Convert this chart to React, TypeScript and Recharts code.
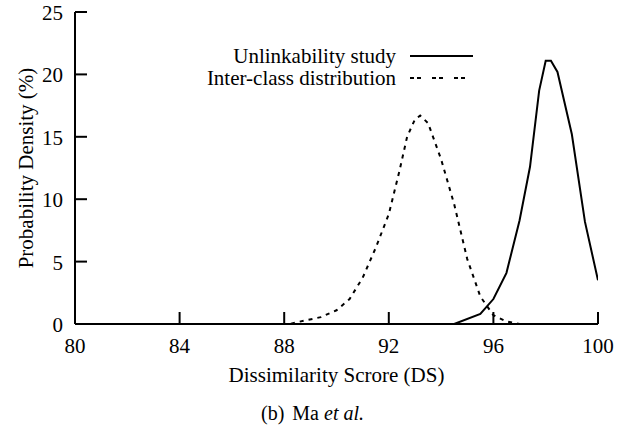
import { LineChart, Line, XAxis, YAxis, Legend } from 'recharts';

const xTicks = [80, 84, 88, 92, 96, 100];
const yTicks = [0, 5, 10, 15, 20, 25];

// Unlinkability study (solid)
const unlinkX = [80, 94.5, 95.5, 96, 96.5, 97, 97.4, 97.75, 98, 98.2, 98.45, 99, 99.5, 100];
const unlinkY = [0, 0, 0.8, 2.0, 4.1, 8.3, 12.6, 18.7, 21.1, 21.1, 20.2, 15.2, 8.2, 3.5];

// Inter-class distribution (dashed)
const interX = [80, 88.2, 88.5, 89.4, 90, 90.5, 91, 91.5, 92, 92.4, 92.7, 93, 93.2, 93.5, 94, 94.5, 95, 95.5, 96, 96.5, 97, 100];
const interY = [0, 0, 0.15, 0.55, 1.1, 2.0, 3.7, 6.1, 8.8, 12.2, 15.0, 16.4, 16.7, 16.1, 13.2, 9.6, 5.2, 2.2, 0.7, 0.2, 0, 0];

const toPoints = (xs: number[], ys: number[]) => xs.map((x, i) => ({ x, y: ys[i] }));
const unlinkData = toPoints(unlinkX, unlinkY);
const interData = toPoints(interX, interY);

const FONT = "'Liberation Serif', 'DejaVu Serif', serif";
const TXT = { fontFamily: FONT };
const TICK = 12;
const AXIS = { stroke: '#000', strokeWidth: 2 };

// gnuplot style: ticks point into the plot, mirrored on top/right
const BottomTick = (p: any) => (
  <g>
    <line x1={p.x} y1={p.y} x2={p.x} y2={p.y - TICK} stroke="#000" strokeWidth={2} />
    <text x={p.x} y={p.y + 29} textAnchor="middle" style={TXT} fontSize={21} fill="#000">
      {p.payload.value}
    </text>
  </g>
);
const TopTick = (p: any) => (
  <line x1={p.x} y1={p.y} x2={p.x} y2={p.y + TICK} stroke="#000" strokeWidth={2} />
);
const LeftTick = (p: any) => (
  <g>
    <line x1={p.x} y1={p.y} x2={p.x + TICK} y2={p.y} stroke="#000" strokeWidth={2} />
    <text x={p.x - 12} y={p.y + 8} textAnchor="end" style={TXT} fontSize={21} fill="#000">
      {p.payload.value}
    </text>
  </g>
);
const RightTick = (p: any) => (
  <line x1={p.x} y1={p.y} x2={p.x - TICK} y2={p.y} stroke="#000" strokeWidth={2} />
);

const legendItems = [
  { name: 'Unlinkability study', dash: undefined },
  { name: 'Inter-class distribution', dash: '4 3 4 11' },
];

const LegendBox = () => (
  <svg width={639} height={100} style={{ position: 'absolute', left: 0, top: 0 }}>
    {legendItems.map((it, i) => (
      <g key={it.name}>
        <text x={396} y={63 + i * 22} textAnchor="end" style={TXT} fontSize={21} fill="#000">
          {it.name}
        </text>
        <line x1={410} y1={56 + i * 22} x2={473} y2={56 + i * 22} stroke="#000" strokeWidth={2} strokeDasharray={it.dash} />
      </g>
    ))}
  </svg>
);

export default function App() {
  return (
    <div style={{ position: 'absolute', left: 0, top: 0, width: 639, height: 427, background: '#fff', fontFamily: FONT }}>
      <LineChart width={639} height={427} margin={{ top: 12, right: 41, bottom: 0, left: 0 }}>
        <XAxis
          xAxisId="b"
          dataKey="x"
          type="number"
          domain={[80, 100]}
          ticks={xTicks}
          allowDataOverflow
          height={103}
          tickSize={0}
          tickMargin={0}
          tickLine={false}
          axisLine={AXIS}
          tick={<BottomTick />}
          label={(p: any) => {
            const vb = p.viewBox;
            const cx = vb.x + vb.width / 2;
            return (
              <g>
                <text x={cx} y={vb.y + 58} textAnchor="middle" style={TXT} fontSize={21} fill="#000">
                  Dissimilarity Scrore (DS)
                </text>
                <text x={cx - 24} y={vb.y + 96} textAnchor="middle" style={TXT} fontSize={20} fill="#000">
                  <tspan>(b)</tspan>
                  <tspan dx={8}>Ma </tspan>
                  <tspan fontStyle="italic">et al.</tspan>
                </text>
              </g>
            );
          }}
        />
        <XAxis
          xAxisId="t"
          orientation="top"
          type="number"
          domain={[80, 100]}
          ticks={xTicks}
          height={0}
          tickSize={0}
          tickMargin={0}
          tickLine={false}
          axisLine={AXIS}
          tick={<TopTick />}
        />
        <YAxis
          yAxisId="l"
          type="number"
          domain={[0, 25]}
          ticks={yTicks}
          allowDataOverflow
          width={75}
          tickSize={0}
          tickMargin={0}
          tickLine={false}
          axisLine={AXIS}
          tick={<LeftTick />}
          label={(p: any) => {
            const vb = p.viewBox;
            return (
              <text
                transform={`translate(${vb.x + 33}, ${vb.y + vb.height / 2}) rotate(-90)`}
                textAnchor="middle"
                style={TXT}
                fontSize={21}
                fill="#000"
              >
                Probability Density (%)
              </text>
            );
          }}
        />
        <YAxis
          yAxisId="r"
          orientation="right"
          type="number"
          domain={[0, 25]}
          ticks={yTicks}
          width={0}
          tickSize={0}
          tickMargin={0}
          tickLine={false}
          axisLine={AXIS}
          tick={<RightTick />}
        />
        <Legend
          layout="horizontal"
          verticalAlign="middle"
          align="center"
          wrapperStyle={{ left: 0, top: 0, width: 639, height: 100 }}
          content={() => <LegendBox />}
        />
        <Line
          xAxisId="b"
          yAxisId="l"
          data={unlinkData}
          dataKey="y"
          name="Unlinkability study"
          type="linear"
          dot={false}
          stroke="#000"
          strokeWidth={2}
          isAnimationActive={false}
        />
        <Line
          xAxisId="b"
          yAxisId="l"
          data={interData}
          dataKey="y"
          name="Inter-class distribution"
          type="linear"
          dot={false}
          stroke="#000"
          strokeWidth={2}
          strokeDasharray="4 5"
          isAnimationActive={false}
        />
      </LineChart>
    </div>
  );
}
